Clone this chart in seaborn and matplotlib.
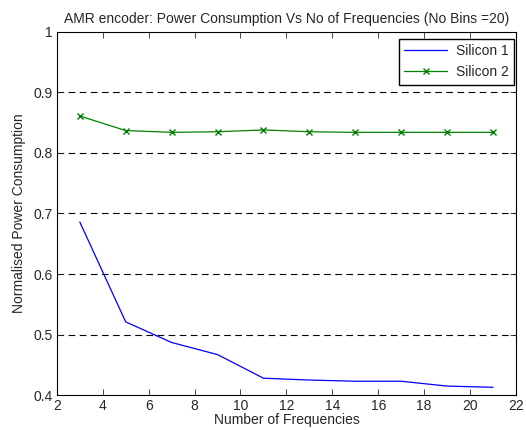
import numpy as np
import pandas as pd
import matplotlib
matplotlib.use('Agg')
import matplotlib.pyplot as plt
import seaborn as sns

# values
frequencies = [3, 5, 7, 9, 11, 13, 15, 17, 19, 21]
silicon_1 = [0.686, 0.521, 0.487, 0.467, 0.428, 0.425, 0.423, 0.423, 0.415, 0.413]
silicon_2 = [0.861, 0.837, 0.834, 0.835, 0.838, 0.835, 0.834, 0.834, 0.834, 0.834]
series_names = ['Silicon 1', 'Silicon 2']
x_ticks = list(range(2, 23, 2))
y_ticks = [0.4, 0.5, 0.6, 0.7, 0.8, 0.9, 1.0]
y_tick_labels = ['0.4', '0.5', '0.6', '0.7', '0.8', '0.9', '1']


def main():
    sns.set_style('ticks')
    plt.rcParams['font.family'] = ['Liberation Sans', 'DejaVu Sans']
    fs = 10

    fig = plt.figure(figsize=(5.26, 4.30), dpi=100)
    ax = fig.add_axes([0.108, 0.081, 0.873, 0.845])

    for y in y_ticks[1:-1]:
        ax.axhline(y, color='k', lw=0.8, ls=(0, (6, 4)), zorder=0)

    sns.lineplot(x=frequencies, y=silicon_1, color='#0000ff', lw=0.9,
                 label=series_names[0], ax=ax)
    sns.lineplot(x=frequencies, y=silicon_2, color='#008000', lw=0.9,
                 marker='x', markersize=4, markeredgewidth=1,
                 markeredgecolor='#008000', label=series_names[1], ax=ax)

    ax.set(xlim=(2, 22), ylim=(0.4, 1.0), xticks=x_ticks, yticks=y_ticks)
    ax.set_yticklabels(y_tick_labels)
    ax.tick_params(direction='in', top=True, right=True, length=4, width=0.6,
                   labelsize=fs, pad=3)
    for s in ax.spines.values():
        s.set_linewidth(0.8)
        s.set_color('k')

    ax.set_xlabel('Number of Frequencies', fontsize=fs, labelpad=0)
    ax.set_ylabel('Normalised Power Consumption', fontsize=fs, labelpad=5)
    ax.set_title('AMR encoder: Power Consumption Vs No of Frequencies (No Bins =20)',
                 fontsize=fs, pad=6)

    leg = ax.legend(loc='upper right', bbox_to_anchor=(0.996, 0.981),
                    fontsize=fs, frameon=True, fancybox=False,
                    edgecolor='k', framealpha=1, handlelength=3.1,
                    borderaxespad=0, labelspacing=0.5, handletextpad=0.6)
    leg.get_frame().set_linewidth(1.0)

    fig.savefig('out.png', dpi=100)


if __name__ == '__main__':
    main()
